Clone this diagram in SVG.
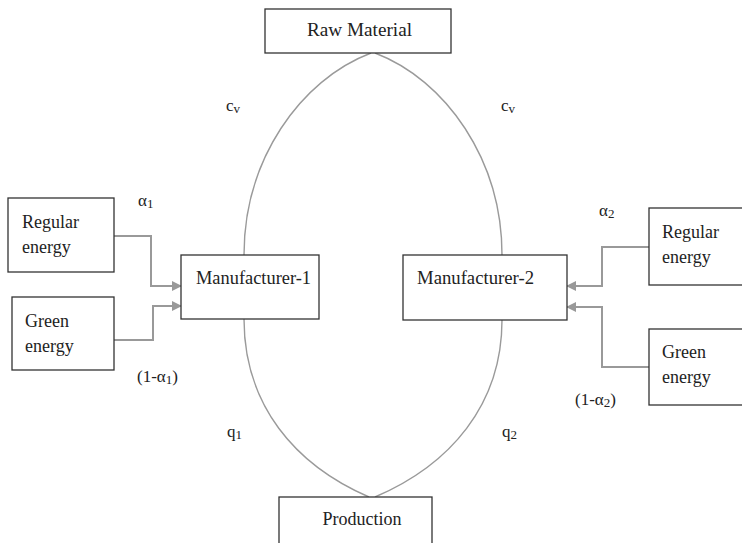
<svg xmlns="http://www.w3.org/2000/svg" width="742" height="543" viewBox="0 0 742 543">
<defs>
<style>
.box{fill:#fff;stroke:#333;stroke-width:1.3}
.t{font-family:"Liberation Serif","DejaVu Serif","Times New Roman",serif;font-size:18px;fill:#222}
.lbl{font-family:"Liberation Serif","DejaVu Serif","Times New Roman",serif;font-size:17px;fill:#222}
.sub{font-size:13px}
.arc{fill:none;stroke:#9a9a9a;stroke-width:1.4}
.con{fill:none;stroke:#999;stroke-width:2}
</style>
<marker id="ah" markerWidth="10" markerHeight="10" refX="9" refY="5" orient="auto" markerUnits="userSpaceOnUse">
<path d="M0,0 L10,5 L0,10 Z" fill="#999"/>
</marker>
</defs>
<rect width="742" height="543" fill="#fff"/>
<g id="connectors">
<path class="arc" d="M371 53 C300 80 244 160 244 255"/>
<path class="arc" d="M375 53 C446 80 502 160 502 255"/>
<path class="arc" d="M244 319 C244 405 295 465 369 497"/>
<path class="arc" d="M502 320 C502 405 450 465 375 497"/>
<path class="con" marker-end="url(#ah)" d="M114 236 H151 V286 H181"/>
<path class="con" marker-end="url(#ah)" d="M114 340 H153 V306 H181"/>
<path class="con" marker-end="url(#ah)" d="M649 247 H602 V286 H567"/>
<path class="con" marker-end="url(#ah)" d="M649 367 H602 V307 H567"/>
</g>
<g id="raw-material">
<rect class="box" x="265" y="9" width="186" height="44"/>
<text class="t" x="307" y="36" textLength="105" lengthAdjust="spacingAndGlyphs">Raw Material</text>
</g>
<g id="manufacturer-1">
<rect class="box" x="181" y="255" width="138" height="64"/>
<text class="t" x="196" y="284" textLength="115" lengthAdjust="spacingAndGlyphs">Manufacturer-1</text>
</g>
<g id="manufacturer-2">
<rect class="box" x="403" y="255" width="164" height="65"/>
<text class="t" x="417" y="284" textLength="117" lengthAdjust="spacingAndGlyphs">Manufacturer-2</text>
</g>
<g id="production">
<rect class="box" x="279" y="497" width="153" height="60"/>
<text class="t" x="362" y="525" text-anchor="middle">Production</text>
</g>
<g id="regular-energy-1">
<rect class="box" x="8" y="198" width="106" height="74"/>
<text class="t" x="22" y="228">Regular</text>
<text class="t" x="22" y="253">energy</text>
</g>
<g id="green-energy-1">
<rect class="box" x="12" y="297" width="102" height="73"/>
<text class="t" x="25" y="327">Green</text>
<text class="t" x="25" y="352">energy</text>
</g>
<g id="regular-energy-2">
<rect class="box" x="649" y="208" width="100" height="77"/>
<text class="t" x="662" y="238">Regular</text>
<text class="t" x="662" y="263">energy</text>
</g>
<g id="green-energy-2">
<rect class="box" x="649" y="329" width="100" height="76"/>
<text class="t" x="662" y="358">Green</text>
<text class="t" x="662" y="383">energy</text>
</g>
<g id="labels">
<text class="lbl" x="226" y="111">c<tspan class="sub" dy="2">v</tspan></text>
<text class="lbl" x="501" y="111">c<tspan class="sub" dy="2">v</tspan></text>
<text class="lbl" x="138" y="206">α<tspan class="sub" dy="2">1</tspan></text>
<text class="lbl" x="599" y="216">α<tspan class="sub" dy="2">2</tspan></text>
<text class="lbl" x="137" y="382">(1-α<tspan class="sub" dy="2">1</tspan><tspan dy="-2">)</tspan></text>
<text class="lbl" x="575" y="405">(1-α<tspan class="sub" dy="2">2</tspan><tspan dy="-2">)</tspan></text>
<text class="lbl" x="227" y="437">q<tspan class="sub" dy="2">1</tspan></text>
<text class="lbl" x="502" y="437">q<tspan class="sub" dy="2">2</tspan></text>
</g>
</svg>
